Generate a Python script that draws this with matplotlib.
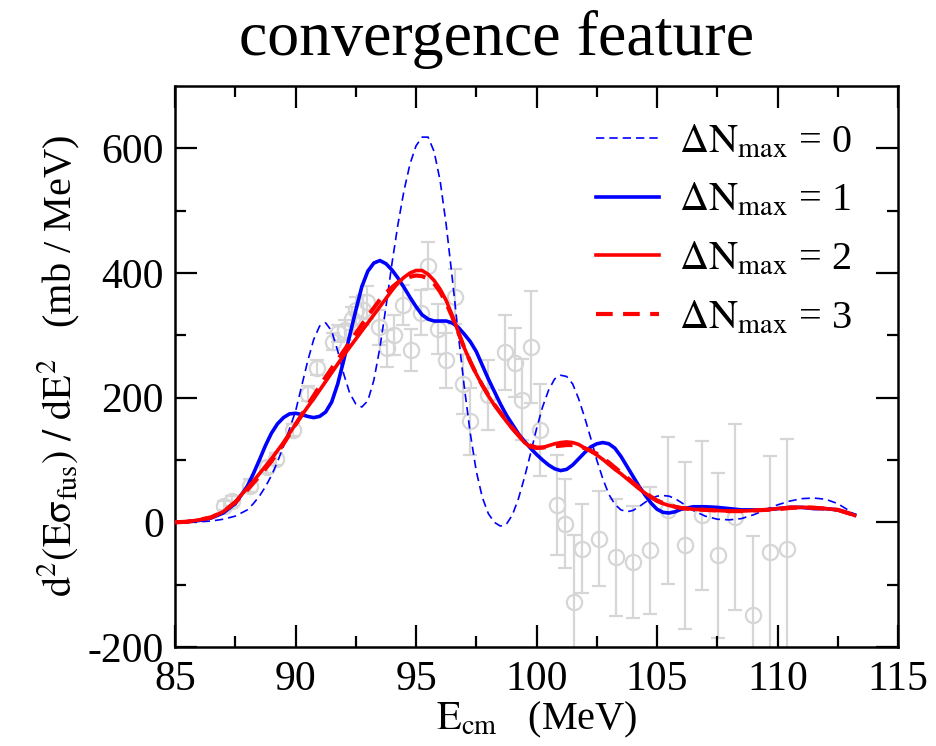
import numpy as np
import matplotlib
matplotlib.use("Agg")
import matplotlib.pyplot as plt

plt.rcParams['font.family'] = ['Liberation Serif', 'DejaVu Serif']
plt.rcParams['mathtext.fontset'] = 'stix'
plt.rcParams['axes.unicode_minus'] = False

# ---- experimental points (gray) ----
exp_e = [87.05, 87.35, 88.1, 88.8, 89.2, 89.9, 90.53, 90.9, 91.55, 91.75, 92.05,
         92.35, 92.5, 92.8, 92.95, 93.45, 93.8, 94.1, 94.45, 94.8, 95.2, 95.5,
         95.9, 96.25, 96.6, 96.95, 97.25, 98.0, 98.7, 99.1, 99.4, 99.75, 100.15,
         100.85, 101.2, 101.55, 101.9, 102.6, 103.3, 104.0, 104.7, 105.45, 106.15,
         106.85, 107.55, 108.25, 109.0, 109.7, 110.4]
exp_y = [27, 35, 59, 89, 102, 148, 206, 248, 290, 303, 308, 327, 340, 340, 353,
         313, 279, 300, 348, 276, 336, 412, 310, 260, 362, 222, 162, 204, 273, 256,
         197, 281, 148, 28, -2, -128, -42, -26, -56, -64, -45, 19, -37, 11, -53, 9,
         -149, -48, -42]
exp_err = [8, 8, 10, 10, 10, 10, 12, 12, 14, 14, 16, 18, 22, 24, 26, 28, 30, 32,
           32, 34, 36, 38, 40, 44, 44, 48, 54, 56, 60, 55, 65, 90, 74, 80, 72, 107,
           72, 76, 94, 90, 102, 118, 134, 120, 132, 149, 127, 155, 175]

# ---- calculated curves (read on a common energy grid) ----
e_curve = [85, 85.5, 86, 86.5, 87, 87.5, 88,
           88.25, 88.5, 88.75, 89, 89.25, 89.5, 89.75, 90,
           90.25, 90.5, 90.75, 91, 91.25, 91.5, 91.75, 92,
           92.25, 92.5, 92.75, 93, 93.25, 93.5, 93.75, 94,
           94.25, 94.5, 94.75, 95, 95.25, 95.5, 95.75, 96,
           96.25, 96.5, 96.75, 97, 97.25, 97.5, 97.75, 98,
           98.25, 98.5, 98.75, 99, 99.25, 99.5, 99.75, 100,
           100.25, 100.5, 100.75, 101, 101.25, 101.5, 101.75, 102,
           102.25, 102.5, 102.75, 103, 103.25, 103.5, 103.75, 104,
           104.25, 104.5, 104.75, 105, 105.25, 105.5, 105.75, 106,
           106.5, 107, 107.5, 108, 108.5, 109, 109.5, 110, 110.5, 111,
           111.5, 112, 112.5, 113, 113.2]
dn0 = [0, 0, 1, 2, 5, 10, 20,
       30, 42, 57, 75, 97, 122, 150, 178,
       218, 258, 293, 315, 320, 307, 275, 238,
       207, 190, 185, 195, 228, 280, 345, 415,
       478, 532, 575, 604, 618, 618, 595, 548,
       478, 393, 303, 218, 143, 82, 40, 14,
       0, -6, -3, 12, 38, 72, 110, 150,
       185, 212, 230, 236, 234, 222, 198, 168,
       135, 100, 70, 45, 29, 20, 17, 19,
       25, 32, 38, 42, 43, 42, 38, 32,
       19, 10, 5, 4, 6, 12, 20, 28, 34, 38,
       39, 37, 30, 18, 12]
dn1 = [0, 1, 3, 7, 15, 30, 58,
       78, 100, 123, 143, 158, 168, 174, 175,
       173, 170, 168, 170, 177, 193, 222, 260,
       300, 340, 378, 403, 416, 420, 415, 405,
       392, 377, 361, 346, 333, 326, 323, 323,
       323, 320, 313, 302, 290, 274, 252, 230,
       210, 190, 172, 157, 142, 130, 119, 109,
       100, 92, 86, 83, 85, 92, 102, 112,
       121, 126, 128, 126, 119, 106, 90, 74,
       58, 44, 31, 21, 16, 15, 17, 21,
       25, 25, 24, 22, 20, 20, 20, 22, 24, 24,
       22, 22, 20, 14, 12]
dn2 = [0, 1, 4, 8, 17, 33, 55,
       66, 78, 90, 102, 115, 128, 143, 157,
       171, 185, 198, 212, 226, 240, 254, 268,
       281, 294, 307, 320, 333, 346, 359, 372,
       384, 393, 400, 404, 404, 398, 388, 374,
       356, 332, 306, 280, 258, 238, 220, 203,
       188, 175, 162, 150, 139, 128, 121, 119,
       120, 123, 126, 128, 129, 128, 125, 119,
       114, 108, 101, 93, 85, 78, 70, 62,
       54, 47, 40, 34, 30, 27, 25, 23,
       21, 20, 19, 18, 18, 19, 20, 22, 24, 24,
       24, 22, 20, 14, 11]
dn3 = [0, 1, 4, 8, 17, 32, 52,
       63, 74, 86, 98, 112, 126, 141, 157,
       172, 188, 203, 218, 233, 247, 261, 275,
       289, 303, 317, 331, 344, 357, 368, 377,
       385, 390, 394, 396, 395, 391, 383, 370,
       352, 330, 305, 280, 258, 238, 220, 204,
       189, 176, 163, 151, 140, 130, 123, 120,
       120, 121, 122, 123, 124, 124, 122, 119,
       115, 110, 103, 96, 88, 80, 72, 64,
       56, 48, 41, 35, 31, 28, 25, 23,
       21, 20, 19, 18, 18, 19, 20, 21, 23, 24,
       23, 22, 20, 14, 11]

fig = plt.figure(figsize=(9.37, 7.46), dpi=100)
ax = fig.add_axes([0.1868, 0.1327, 0.7716, 0.752])

ax.errorbar(exp_e, exp_y, yerr=exp_err, fmt='o', mfc='none', mec='#d6d6d6',
            ecolor='#d6d6d6', ms=11, mew=1.6, elinewidth=1.6, capsize=5,
            capthick=1.6, zorder=1)

ax.plot(e_curve, dn0, color='#0000ff', lw=1.2, ls=(0, (5, 3)),
        label=r'$\Delta\mathrm{N_{max}}$ = 0', zorder=3)
ax.plot(e_curve, dn1, color='#0000ff', lw=2.6, ls='-',
        label=r'$\Delta\mathrm{N_{max}}$ = 1', zorder=3)
ax.plot(e_curve, dn2, color='#ff0000', lw=2.6, ls='-',
        label=r'$\Delta\mathrm{N_{max}}$ = 2', zorder=4)
ax.plot(e_curve, dn3, color='#ff0000', lw=3.0, ls=(0, (4, 2.5)),
        label=r'$\Delta\mathrm{N_{max}}$ = 3', zorder=4)

ax.set_xlim(85, 115)
ax.set_ylim(-200, 700)
ax.set_xticks([85, 90, 95, 100, 105, 110, 115])
ax.set_xticks(np.arange(87.5, 115, 5), minor=True)
ax.set_yticks([-200, 0, 200, 400, 600])
ax.set_yticks([-100, 100, 300, 500], minor=True)
ax.tick_params(which='both', direction='in', top=True, right=True,
               labelsize=30, width=1.6)
ax.tick_params(axis='x', pad=10)
ax.tick_params(axis='y', pad=8)
ax.tick_params(which='major', length=16)
ax.tick_params(which='minor', length=8)
for s in ax.spines.values():
    s.set_linewidth(1.8)

ax.set_xlabel(r'$\mathrm{E_{cm}}$   (MeV)', fontsize=29, labelpad=0)
ax.set_ylabel(r'$\mathrm{d^2(E\sigma_{fus})\ /\ dE^2}$   (mb / MeV)',
              fontsize=29, labelpad=4)
fig.text(0.53, 0.926, 'convergence feature', fontsize=46, ha='center',
         va='baseline')

ax.legend(loc='upper right', bbox_to_anchor=(0.958, 0.962), frameon=False,
          fontsize=29, handlelength=1.55, labelspacing=0.52, handletextpad=0.5,
          borderaxespad=0.0)

fig.savefig('out.png', dpi=100)
